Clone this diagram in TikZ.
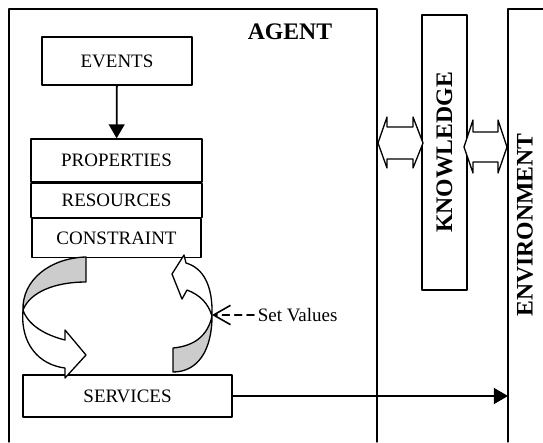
\documentclass[tikz,border=0pt]{standalone}
\usepackage{fontspec}
\setmainfont{Liberation Serif}
\usetikzlibrary{arrows.meta,positioning}

\tikzset{
  box/.style={draw, line width=0.75pt, inner sep=0pt, font=\fontsize{10.8}{13}\selectfont},
  lbl/.style={font=\bfseries\fontsize{13.5}{16}\selectfont},
  flow/.style={line width=1pt, -{Triangle[length=8pt,width=9pt]}},
  band/.style={draw, line width=0.75pt, line join=round},
}
\colorlet{bandgrey}{gray!40}

\begin{document}
\begin{tikzpicture}[x=0.02cm, y=-0.02cm, line cap=round, line join=round]
  \useasboundingbox (0,0) rectangle (543,442);
  % frames of agent and environment
  \draw[line width=0.75pt] (9,442) -- (9,9) -- (377,9) -- (377,442);
  \draw[line width=0.75pt] (508,442) -- (508,9) -- (543,9);
  \node[lbl] (agent) at (290,32) {AGENT};
  \node[lbl, rotate=90] (env) at (525,225) {ENVIRONMENT};
  \node[box, lbl, rotate=90, minimum width=5.5cm, minimum height=0.9cm] (know) at (444.5,152.5) {KNOWLEDGE};

  % agent parts
  \node[box, minimum width=3cm, minimum height=0.96cm] (events) at (117,61) {EVENTS};
  \node[box, minimum width=3.42cm, minimum height=0.86cm] (props) at (116.5,160.5) {PROPERTIES};
  \node[box, minimum width=3.42cm, minimum height=0.68cm, below=0pt of props] (res) {RESOURCES};
  \node[box, minimum width=3.38cm, minimum height=0.78cm, below=0pt of res] (cons) {CONSTRAINT};
  \node[box, minimum width=4.18cm, minimum height=0.84cm] (serv) at (127.5,396) {SERVICES};
  \node[font=\fontsize{10.8}{13}\selectfont, anchor=west, inner sep=2pt] (setval) at (254,315) {Set Values};
  \coordinate (envin) at (508,396);
  \coordinate (rset) at (212,315);

  \draw[flow] (events) -- (props);
  \draw[flow] (serv) -- (envin);

  % double arrows
  \draw[line width=0.75pt, fill=white] (378,143) -- (387,117) -- (387,127) -- (413,127) -- (413,117)
    -- (423,143) -- (413,168) -- (413,159) -- (387,159) -- (387,168) -- cycle;
  \draw[line width=0.75pt, fill=white] (464,147) -- (473,120) -- (473,132) -- (498,132) -- (498,120)
    -- (507,147) -- (498,173) -- (498,162) -- (473,162) -- (473,173) -- cycle;

  % left curved arrow
  \draw[band, fill=bandgrey] (86,257) .. controls (50,258) and (22,280) .. (23,310)
    .. controls (30,292) and (55,282) .. (86,282) -- cycle;
  \draw[band, fill=white] (23,310) .. controls (20,345) and (40,365) .. (65,368)
    -- (65,378) -- (86,355) -- (65,330) -- (65,340)
    .. controls (45,335) and (28,325) .. (23,310) -- cycle;

  % right curved arrow
  \draw[band, fill=bandgrey] (173,372) .. controls (198,372) and (212,350) .. (212,316)
    .. controls (208,335) and (195,346) .. (173,348) -- cycle;
  \draw[band, fill=white] (212,316) .. controls (213,285) and (203,268) .. (186,263)
    -- (184,255) -- (172,274) -- (182,299) -- (187,290)
    .. controls (200,295) and (208,303) .. (212,316) -- cycle;

  \draw[line width=0.9pt, dash pattern=on 4pt off 3pt, -{Straight Barb[length=9.6pt,width=11pt]}] (setval) -- (rset);
\end{tikzpicture}
\end{document}
